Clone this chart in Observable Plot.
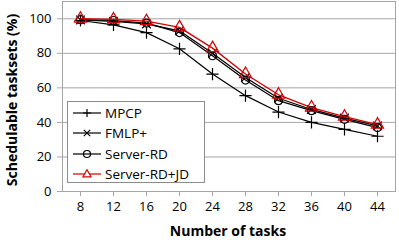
<!DOCTYPE html>
<html><head><meta charset="utf-8">
<script src="https://cdn.jsdelivr.net/npm/d3@7"></script>
<script src="https://cdn.jsdelivr.net/npm/@observablehq/plot@0.6"></script>
<style>
body{margin:0;background:#fff;font-family:"Open Sans",sans-serif;}
#wrap{position:relative;width:399px;height:240px;overflow:hidden;}
#legend{position:absolute;left:67px;top:101px;width:136px;height:80px;border:1px solid #8c8c8c;background:#fff;font-size:13.5px;}
#legend .row{position:absolute;left:5px;height:20px;display:flex;align-items:center;}
#legend svg{margin-right:4px;}
.ttl{position:absolute;font-weight:bold;font-size:14px;line-height:16px;color:#000;white-space:nowrap;}
</style></head><body>
<div id="wrap"></div>
<script>
const tasks = [8, 12, 16, 20, 24, 28, 32, 36, 40, 44];
const seriesNames = ["MPCP", "FMLP+", "Server-RD", "Server-RD+JD"];
const mpcp = [99, 96.5, 92, 82.6, 68, 55.5, 46, 40, 36, 32];
const fmlp = [99.3, 98.5, 97, 93, 80, 66, 54, 47.5, 42.5, 38];
const serverRD = [99.5, 99, 97.5, 92, 78.6, 64.5, 52.6, 46.8, 41.8, 37];
const serverRDJD = [100, 99.6, 98.6, 95, 83, 68, 56, 48.6, 43.3, 38.7];
const yTicks = [0, 20, 40, 60, 80, 100];

const values = [mpcp, fmlp, serverRD, serverRDJD];
const colors = ["#000000", "#000000", "#000000", "#d40000"];
const symbols = ["plus", "times", "circle", "triangle"];
const data = [];
seriesNames.forEach((s, i) => tasks.forEach((t, j) => data.push({series: s, tasks: t, value: values[i][j]})));

const grid = "#a6a6a6";
const marks = [
  Plot.gridY(yTicks.filter(d => d > 0), {stroke: grid, strokeOpacity: 1}),
  Plot.frame({stroke: grid}),
  Plot.axisY({ticks: yTicks, tickSize: 5, tickPadding: 6, stroke: grid, fill: "#000", label: null}),
  Plot.axisX({tickSize: 5, tickPadding: 5, stroke: grid, fill: "#000", label: null})
];
seriesNames.forEach((s, i) => {
  const d = data.filter(r => r.series === s);
  marks.push(Plot.line(d, {x: "tasks", y: "value", stroke: colors[i], strokeWidth: i === 3 ? 1.3 : 1.2}));
  marks.push(Plot.dot(d, {x: "tasks", y: "value", stroke: colors[i], symbol: () => symbols[i], r: i === 3 ? 4.5 : 4, strokeWidth: 1.2, fill: i >= 2 ? "none" : null}));
});

const chart = Plot.plot({
  width: 399, height: 240,
  marginLeft: 62, marginRight: 4, marginTop: 1, marginBottom: 49,
  style: {fontFamily: "Open Sans, sans-serif", fontSize: "13px", color: "#000", background: "#fff"},
  x: {type: "point", domain: tasks, padding: 0.5},
  y: {domain: [0, 110]},
  marks
});
const wrap = document.getElementById("wrap");
wrap.appendChild(chart);

// axis titles
const xt = document.createElement("div");
xt.className = "ttl"; xt.textContent = "Number of tasks";
xt.style.left = "228px"; xt.style.top = "223px"; xt.style.transform = "translateX(-50%)";
wrap.appendChild(xt);
const yt = document.createElement("div");
yt.className = "ttl"; yt.textContent = "Schedulable tasksets (%)";
yt.style.left = "12px"; yt.style.top = "100px"; yt.style.transform = "translate(-50%,-50%) rotate(-90deg)";
wrap.appendChild(yt);

// legend
const lg = document.createElement("div");
lg.id = "legend";
const paths = {
  plus: "M-4,0H4M0,-4V4",
  times: "M-3.2,-3.2L3.2,3.2M-3.2,3.2L3.2,-3.2",
  circle: "M3.5,0A3.5,3.5,0,1,1,-3.5,0A3.5,3.5,0,1,1,3.5,0",
  triangle: "M0,-4.2L4,2.8H-4Z"
};
seriesNames.forEach((s, i) => {
  const row = document.createElement("div");
  row.className = "row";
  row.style.top = (1 + i * 20.3) + "px";
  row.innerHTML = `<svg width="28" height="12"><line x1="0" x2="28" y1="6" y2="6" stroke="${colors[i]}" stroke-width="1.2"/><path transform="translate(14,6)" d="${paths[symbols[i]]}" stroke="${colors[i]}" fill="${i===3?'#fff':'none'}" stroke-width="1.2"/></svg><span>${s}</span>`;
  lg.appendChild(row);
});
wrap.appendChild(lg);
</script>
</body></html>
